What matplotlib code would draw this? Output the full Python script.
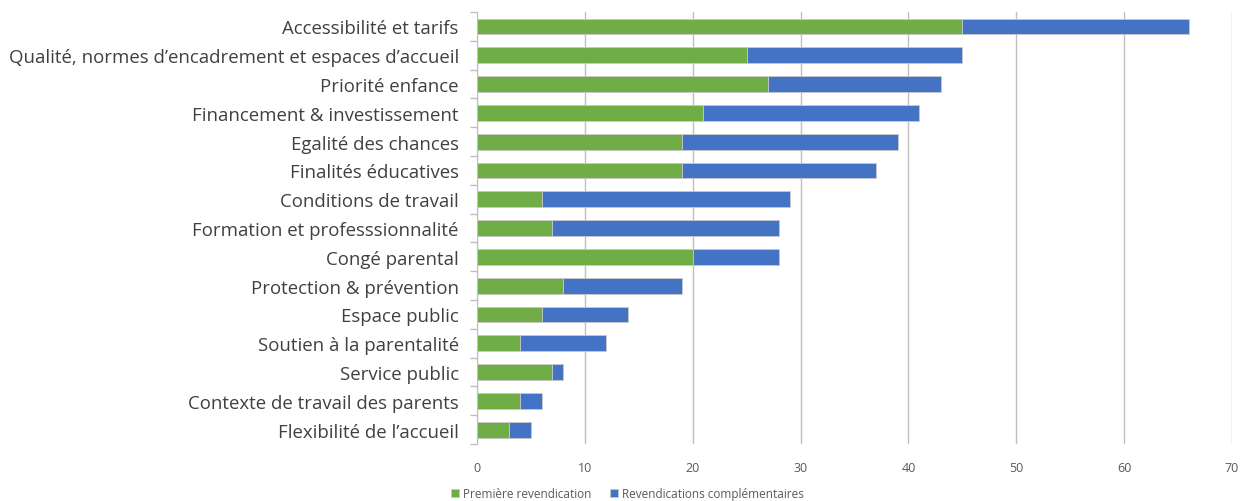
import matplotlib
matplotlib.use('Agg')
import matplotlib.pyplot as plt
import numpy as np

categories = ['Accessibilité et tarifs',
              'Qualité, normes d’encadrement et espaces d’accueil',
              'Priorité enfance',
              'Financement & investissement',
              'Egalité des chances',
              'Finalités éducatives',
              'Conditions de travail',
              'Formation et professsionnalité',
              'Congé parental',
              'Protection & prévention',
              'Espace public',
              'Soutien à la parentalité',
              'Service public',
              'Contexte de travail des parents',
              'Flexibilité de l’accueil']
premiere = [45, 25, 27, 21, 19, 19, 6, 7, 20, 8, 6, 4, 7, 4, 3]
totales = [66, 45, 43, 41, 39, 37, 29, 28, 28, 19, 14, 12, 8, 6, 5]
complementaires = [t - p for t, p in zip(totales, premiere)]
xticks = [0, 10, 20, 30, 40, 50, 60, 70]

plt.rcParams['font.family'] = ['Open Sans', 'DejaVu Sans']

fig = plt.figure(figsize=(12.42, 5.02), dpi=100)
ax = fig.add_axes([0.384, 0.1135, 0.608, 0.8605])

y = np.arange(len(categories))
ax.barh(y, premiere, height=0.55, color='#70ad47', edgecolor='#c8c8c8', linewidth=0.6,
        label='Première revendication', zorder=3)
ax.barh(y, complementaires, left=premiere, height=0.55, color='#4472c4', edgecolor='#c8c8c8',
        linewidth=0.6, label='Revendications complémentaires', zorder=3)

ax.set_ylim(len(categories) - 0.5, -0.5)
ax.set_xlim(0, 70)
ax.set_xticks(xticks)
ax.set_xticklabels([str(v) for v in xticks], fontsize=9, color='#595959')
ax.set_yticks(y)
ax.set_yticklabels(categories, fontsize=13.4, color='#404040')
ax.set_yticks(np.arange(len(categories) + 1) - 0.5, minor=True)
ax.tick_params(axis='y', which='major', length=0, pad=13)
ax.tick_params(axis='y', which='minor', length=5, color='#bfbfbf', width=1)
ax.tick_params(axis='x', length=0, pad=12)
ax.xaxis.grid(True, color='#bfbfbf', linewidth=1, zorder=0)

for s in ['top', 'right', 'bottom']:
    ax.spines[s].set_visible(False)
ax.spines['left'].set_color('#bfbfbf')

fig.legend(loc='lower center', bbox_to_anchor=(0.505, -0.02), ncol=2, frameon=False,
           fontsize=8.5, handlelength=0.7, handleheight=0.7, columnspacing=1.6,
           handletextpad=0.3, labelcolor='#595959')

fig.savefig('out.png', dpi=100)
